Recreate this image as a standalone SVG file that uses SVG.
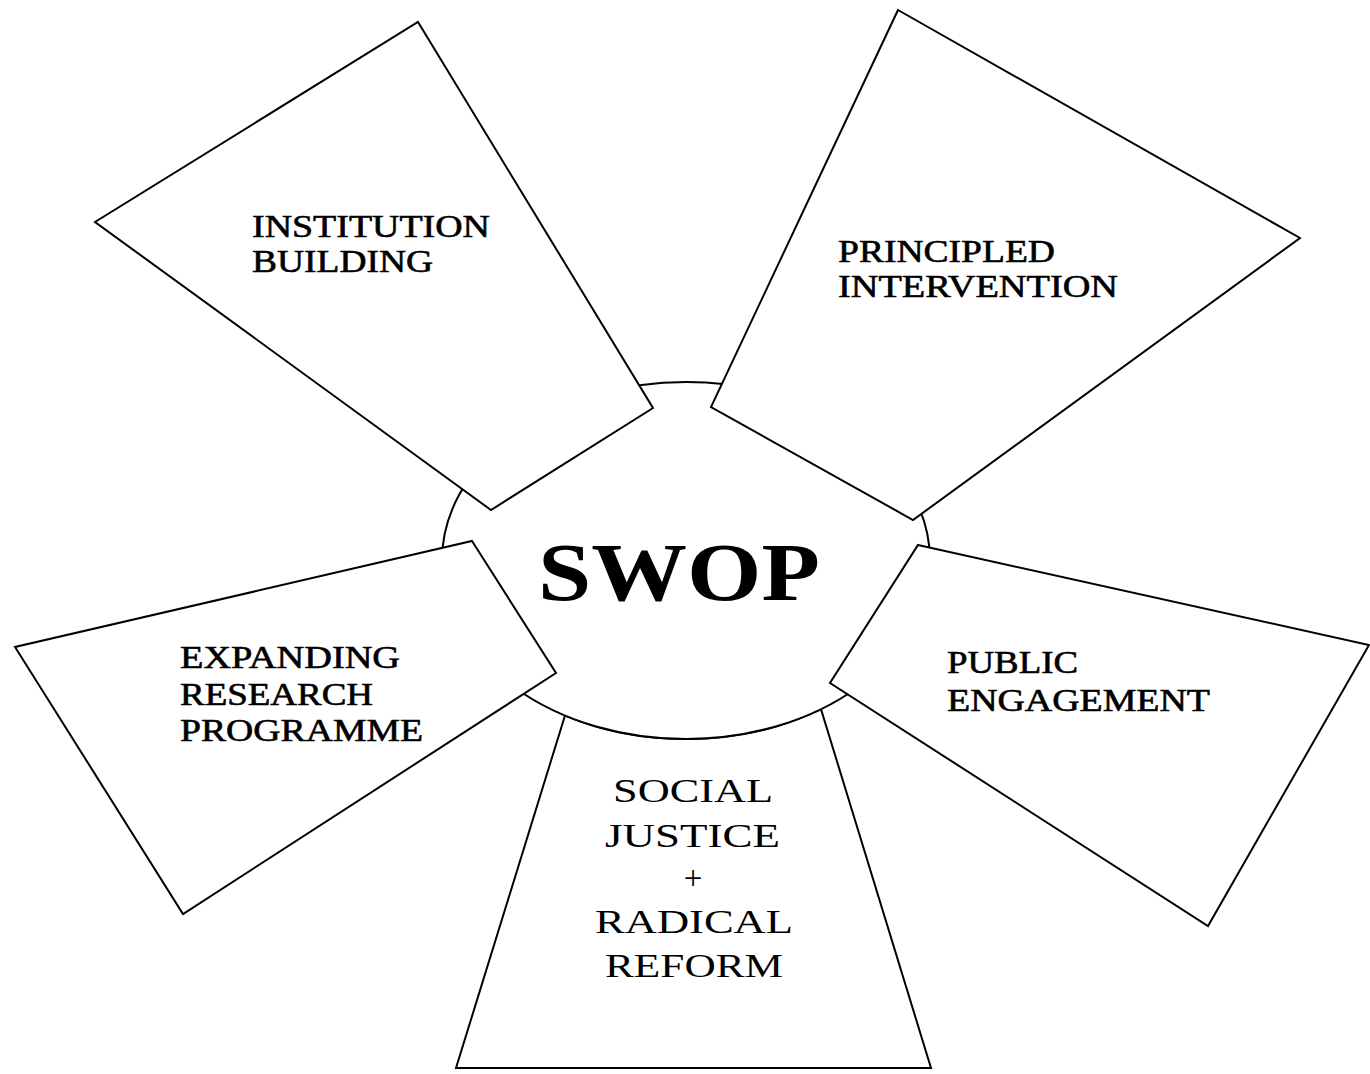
<svg xmlns="http://www.w3.org/2000/svg" width="1370" height="1074" viewBox="0 0 1370 1074">
  <style>
    .shape { fill: #ffffff; stroke: #000000; stroke-width: 2; stroke-linejoin: miter; }
    .label { font-family: "Liberation Serif", "Times New Roman", serif; font-size: 31px; fill: #000000; stroke: #000000; stroke-width: 0.6; }
    .label-lite { font-family: "Liberation Serif", "Times New Roman", serif; font-size: 33px; fill: #000000; }
    .title { font-family: "Liberation Serif", "Times New Roman", serif; font-size: 83px; font-weight: bold; fill: #000000; }
  </style>
  <rect width="1370" height="1074" fill="#ffffff"/>

  <!-- bottom petal: its top edge follows the lower arc of the hub -->
  <g id="social-justice">
    <path class="shape" d="M565,715.5 L456,1068 L931,1068 L821,709.2 A244,178.5 0 0 1 565,715.5 Z"/>
    <text class="label-lite" x="613" y="802" textLength="160" lengthAdjust="spacingAndGlyphs">SOCIAL</text>
    <text class="label-lite" x="605" y="847" textLength="175" lengthAdjust="spacingAndGlyphs">JUSTICE</text>
    <text class="label-lite" x="693" y="889" text-anchor="middle">+</text>
    <text class="label-lite" x="595" y="933" textLength="198" lengthAdjust="spacingAndGlyphs">RADICAL</text>
    <text class="label-lite" x="605" y="977" textLength="178" lengthAdjust="spacingAndGlyphs">REFORM</text>
  </g>

  <!-- central hub -->
  <g id="swop">
    <ellipse class="shape" cx="686" cy="560.5" rx="244" ry="178.5"/>
    <text class="title" x="538" y="600" textLength="282" lengthAdjust="spacingAndGlyphs">SWOP</text>
  </g>

  <g id="institution-building">
    <polygon class="shape" points="418,22 653,408 491,510 95,222"/>
    <text class="label" x="252" y="237" textLength="238" lengthAdjust="spacingAndGlyphs">INSTITUTION</text>
    <text class="label" x="252" y="272" textLength="181" lengthAdjust="spacingAndGlyphs">BUILDING</text>
  </g>

  <g id="principled-intervention">
    <polygon class="shape" points="898,10 1300,238 913,520 711,407"/>
    <text class="label" x="838" y="262" textLength="217" lengthAdjust="spacingAndGlyphs">PRINCIPLED</text>
    <text class="label" x="838" y="297" textLength="280" lengthAdjust="spacingAndGlyphs">INTERVENTION</text>
  </g>

  <g id="expanding-research">
    <polygon class="shape" points="472,541 556,673 183,914 15,647"/>
    <text class="label" x="180" y="668" textLength="220" lengthAdjust="spacingAndGlyphs">EXPANDING</text>
    <text class="label" x="180" y="705" textLength="193" lengthAdjust="spacingAndGlyphs">RESEARCH</text>
    <text class="label" x="180" y="741" textLength="243" lengthAdjust="spacingAndGlyphs">PROGRAMME</text>
  </g>

  <g id="public-engagement">
    <polygon class="shape" points="918,545 1369,645 1208,926 830,683"/>
    <text class="label" x="947" y="673" textLength="131" lengthAdjust="spacingAndGlyphs">PUBLIC</text>
    <text class="label" x="947" y="711" textLength="263" lengthAdjust="spacingAndGlyphs">ENGAGEMENT</text>
  </g>

  <g id="connectors"/>
</svg>
